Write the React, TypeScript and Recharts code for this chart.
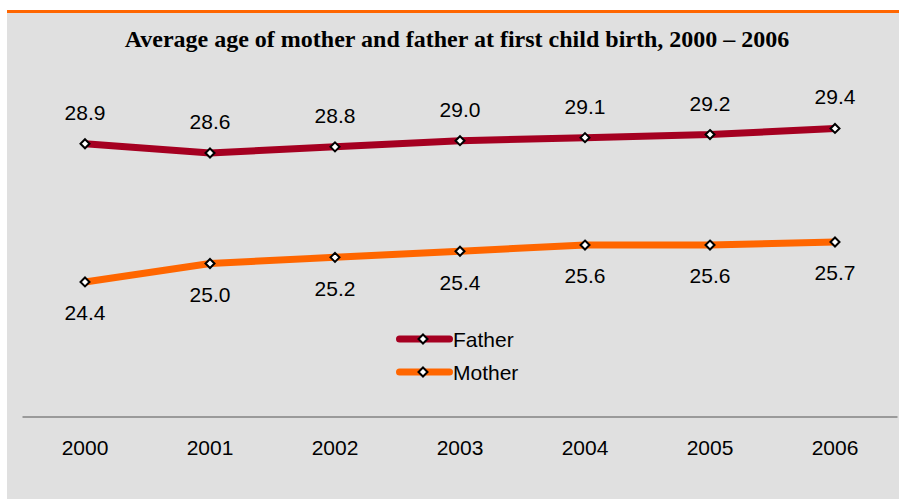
import React from "react";
import { LineChart, Line, XAxis, YAxis, LabelList, Legend } from "recharts";

const years = ["2000", "2001", "2002", "2003", "2004", "2005", "2006"];
const fatherAges = [28.9, 28.6, 28.8, 29.0, 29.1, 29.2, 29.4];
const motherAges = [24.4, 25.0, 25.2, 25.4, 25.6, 25.6, 25.7];
const seriesNames = ["Father", "Mother"];
const title = "Average age of mother and father at first child birth, 2000 \u2013 2006";

const data = years.map((y, i) => ({ year: y, father: fatherAges[i], mother: motherAges[i] }));

const FATHER = "#a50021";
const MOTHER = "#ff6600";
const SANS = "Arial, 'Liberation Sans', sans-serif";

const Diamond = (props: any) => {
  const { cx, cy, key } = props;
  if (cx == null || cy == null) return null;
  const r = 4.5;
  return (
    <polygon
      key={key}
      points={`${cx},${cy - r} ${cx + r},${cy} ${cx},${cy + r} ${cx - r},${cy}`}
      fill="#ffffff"
      stroke="#000000"
      strokeWidth={2}
    />
  );
};

const LegendContent = () => {
  const colors = [FATHER, MOTHER];
  return (
    <div>
      {seriesNames.map((n, i) => (
        <div key={n} style={{ display: "flex", alignItems: "center", height: 33 }}>
          <svg width={57} height={12} style={{ display: "block" }}>
            <line x1={3.5} y1={6} x2={53.5} y2={6} stroke={colors[i]} strokeWidth={7} strokeLinecap="round" />
            <polygon points="27,1.5 31.5,6 27,10.5 22.5,6" fill="#fff" stroke="#000" strokeWidth={2} />
          </svg>
          <span style={{ fontFamily: SANS, fontSize: 21, color: "#000", lineHeight: "21px" }}>{n}</span>
        </div>
      ))}
    </div>
  );
};

export default function App() {
  return (
    <div style={{ position: "absolute", left: 0, top: 0, width: 899, height: 499, background: "#ffffff" }}>
      <div style={{ position: "absolute", left: 7, top: 10, width: 892, height: 3, background: MOTHER }} />
      <div style={{ position: "absolute", left: 7, top: 13, width: 892, height: 486, background: "#e0e0e0" }}>
        <LineChart
          width={892}
          height={486}
          data={data}
          margin={{ top: 97, right: 1.5, left: 15.5, bottom: 0 }}
        >
          <XAxis
            dataKey="year"
            height={82}
            padding={{ left: 62.5, right: 62.5 }}
            axisLine={{ stroke: "#555555", strokeWidth: 1.2 }}
            tickLine={false}
            tickSize={6}
            tickMargin={17}
            tick={{ fill: "#000000", fontSize: 21, fontFamily: SANS }}
            interval={0}
          />
          <YAxis hide domain={[20, 30]} />
          <Legend
            layout="horizontal"
            verticalAlign="middle"
            align="center"
            content={<LegendContent />}
            wrapperStyle={{ position: "absolute", left: 389, top: 309.5, width: 160, height: 66 }}
          />
          <Line
            dataKey="father"
            name={seriesNames[0]}
            stroke={FATHER}
            strokeWidth={7}
            dot={Diamond}
            activeDot={false}
            isAnimationActive={false}
          >
            <LabelList
              dataKey="father"
              position="top"
              offset={24}
              formatter={(v: any) => Number(v).toFixed(1)}
              fill="#000000"
              fontSize={21}
              fontFamily={SANS}
            />
          </Line>
          <Line
            dataKey="mother"
            name={seriesNames[1]}
            stroke={MOTHER}
            strokeWidth={7}
            dot={Diamond}
            activeDot={false}
            isAnimationActive={false}
          >
            <LabelList
              dataKey="mother"
              position="bottom"
              offset={23.5}
              formatter={(v: any) => Number(v).toFixed(1)}
              fill="#000000"
              fontSize={21}
              fontFamily={SANS}
            />
          </Line>
        </LineChart>
      </div>
      <svg width={899} height={60} style={{ position: "absolute", left: 0, top: 0 }}>
        <text
          x={457}
          y={47}
          textAnchor="middle"
          fontFamily="'Times New Roman', 'Liberation Serif', serif"
          fontWeight="bold"
          fontSize={24}
          fill="#000000"
        >
          {title}
        </text>
      </svg>
    </div>
  );
}
